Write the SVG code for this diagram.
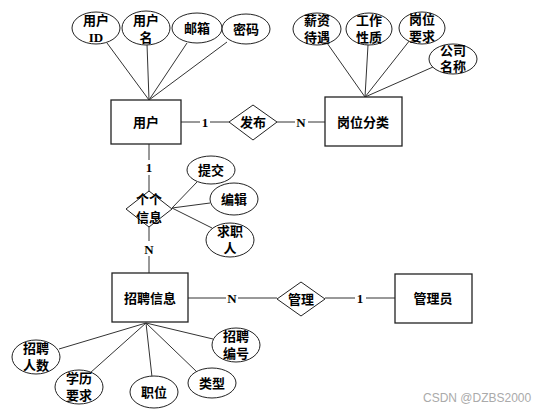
<svg xmlns="http://www.w3.org/2000/svg" width="556" height="413" viewBox="0 0 556 413">
<style>
.e{fill:#fff;stroke:#222;stroke-width:1}
.r{fill:#fff;stroke:#222;stroke-width:1.3}
.d{fill:#fff;stroke:#222;stroke-width:1}
.l{stroke:#333;stroke-width:1;fill:none}
text{font-family:"Liberation Serif","Noto Sans CJK SC",serif;font-weight:bold;font-size:13px;text-anchor:middle;fill:#000}
.wm{font-family:"Liberation Sans","DejaVu Sans",sans-serif;font-weight:normal;font-size:12px;fill:#aaa;text-anchor:start}
</style>
<rect width="556" height="413" fill="#fff"/>
<g id="connectors">
<line class="l" x1="107" y1="43" x2="149" y2="100"/>
<line class="l" x1="147" y1="44" x2="149" y2="100"/>
<line class="l" x1="187" y1="43" x2="149" y2="100"/>
<line class="l" x1="227" y1="42" x2="149" y2="100"/>
<line class="l" x1="327" y1="43" x2="365" y2="97"/>
<line class="l" x1="368" y1="45" x2="365" y2="97"/>
<line class="l" x1="410" y1="40" x2="365" y2="97"/>
<line class="l" x1="433" y1="67" x2="365" y2="97"/>
<line class="l" x1="181" y1="122" x2="200" y2="122"/>
<line class="l" x1="210" y1="122" x2="229" y2="122"/>
<line class="l" x1="277" y1="122" x2="295" y2="122"/>
<line class="l" x1="308" y1="122" x2="325" y2="122"/>
<line class="l" x1="149" y1="144" x2="149" y2="160"/>
<line class="l" x1="149" y1="175" x2="149" y2="191"/>
<line class="l" x1="149" y1="227" x2="149" y2="241"/>
<line class="l" x1="149" y1="256" x2="149" y2="273"/>
<line class="l" x1="172" y1="208" x2="197" y2="182"/>
<line class="l" x1="172" y1="208" x2="210" y2="203"/>
<line class="l" x1="172" y1="208" x2="212" y2="228"/>
<line class="l" x1="188" y1="298" x2="226" y2="298"/>
<line class="l" x1="238" y1="298" x2="277" y2="298"/>
<line class="l" x1="325" y1="298" x2="355" y2="298"/>
<line class="l" x1="366" y1="298" x2="395" y2="298"/>
<line class="l" x1="59" y1="349" x2="146" y2="323"/>
<line class="l" x1="90" y1="373" x2="146" y2="323"/>
<line class="l" x1="152" y1="377" x2="146" y2="323"/>
<line class="l" x1="197" y1="372" x2="146" y2="323"/>
<line class="l" x1="213" y1="339" x2="146" y2="323"/>
<text x="205" y="127">1</text>
<text x="301" y="127">N</text>
<text x="149" y="172">1</text>
<text x="149" y="254">N</text>
<text x="232" y="303">N</text>
<text x="360" y="303">1</text>
</g>
<g id="user"><rect class="r" x="111" y="100" width="70" height="44"/><text x="146" y="127">用户</text></g>
<g id="user-id"><ellipse class="e" cx="96" cy="28" rx="24" ry="16"/><text x="96" y="25">用户</text><text x="96" y="42">ID</text></g>
<g id="user-name"><ellipse class="e" cx="146" cy="28" rx="24" ry="17"/><text x="146" y="25">用户</text><text x="146" y="42">名</text></g>
<g id="email"><ellipse class="e" cx="197" cy="28" rx="25" ry="15"/><text x="197" y="33">邮箱</text></g>
<g id="password"><ellipse class="e" cx="246" cy="29" rx="24" ry="15"/><text x="246" y="34">密码</text></g>
<g id="publish"><polygon class="d" points="229,122 253,105 277,122 253,140"/><text x="253" y="127">发布</text></g>
<g id="job-cat"><rect class="r" x="325" y="97" width="77" height="49"/><text x="363" y="127">岗位分类</text></g>
<g id="salary"><ellipse class="e" cx="317" cy="29" rx="24" ry="16"/><text x="317" y="25">薪资</text><text x="317" y="42">待遇</text></g>
<g id="nature"><ellipse class="e" cx="369" cy="29" rx="23" ry="16"/><text x="369" y="25">工作</text><text x="369" y="42">性质</text></g>
<g id="req"><ellipse class="e" cx="422" cy="28" rx="23" ry="16"/><text x="422" y="24">岗位</text><text x="422" y="41">要求</text></g>
<g id="company"><ellipse class="e" cx="453" cy="59" rx="24" ry="15"/><text x="453" y="55">公司</text><text x="453" y="71">名称</text></g>
<g id="info-rel"><polygon class="d" points="126,209 149,191 172,209 149,227"/><text x="149" y="204">个个</text><text x="149" y="222">信息</text></g>
<g id="submit"><ellipse class="e" cx="211" cy="170" rx="24" ry="14"/><text x="211" y="175">提交</text></g>
<g id="edit"><ellipse class="e" cx="234" cy="199" rx="24" ry="16"/><text x="234" y="204">编辑</text></g>
<g id="seeker"><ellipse class="e" cx="230" cy="240" rx="24" ry="17"/><text x="230" y="236">求职</text><text x="230" y="253">人</text></g>
<g id="recruit"><rect class="r" x="112" y="273" width="76" height="49"/><text x="150" y="303">招聘信息</text></g>
<g id="manage"><polygon class="d" points="277,299 301,282 325,299 301,316"/><text x="301" y="304">管理</text></g>
<g id="admin"><rect class="r" x="395" y="274" width="77" height="49"/><text x="433" y="303">管理员</text></g>
<g id="count"><ellipse class="e" cx="36" cy="357" rx="24" ry="17"/><text x="36" y="353">招聘</text><text x="36" y="370">人数</text></g>
<g id="edu"><ellipse class="e" cx="79" cy="387" rx="24" ry="17"/><text x="79" y="383">学历</text><text x="79" y="400">要求</text></g>
<g id="position"><ellipse class="e" cx="154" cy="392" rx="24" ry="16"/><text x="154" y="397">职位</text></g>
<g id="type"><ellipse class="e" cx="212" cy="383" rx="24" ry="15"/><text x="212" y="388">类型</text></g>
<g id="rid"><ellipse class="e" cx="236" cy="345" rx="24" ry="17"/><text x="236" y="341">招聘</text><text x="236" y="358">编号</text></g>
<text class="wm" x="423" y="402">CSDN @DZBS2000</text>
</svg>
